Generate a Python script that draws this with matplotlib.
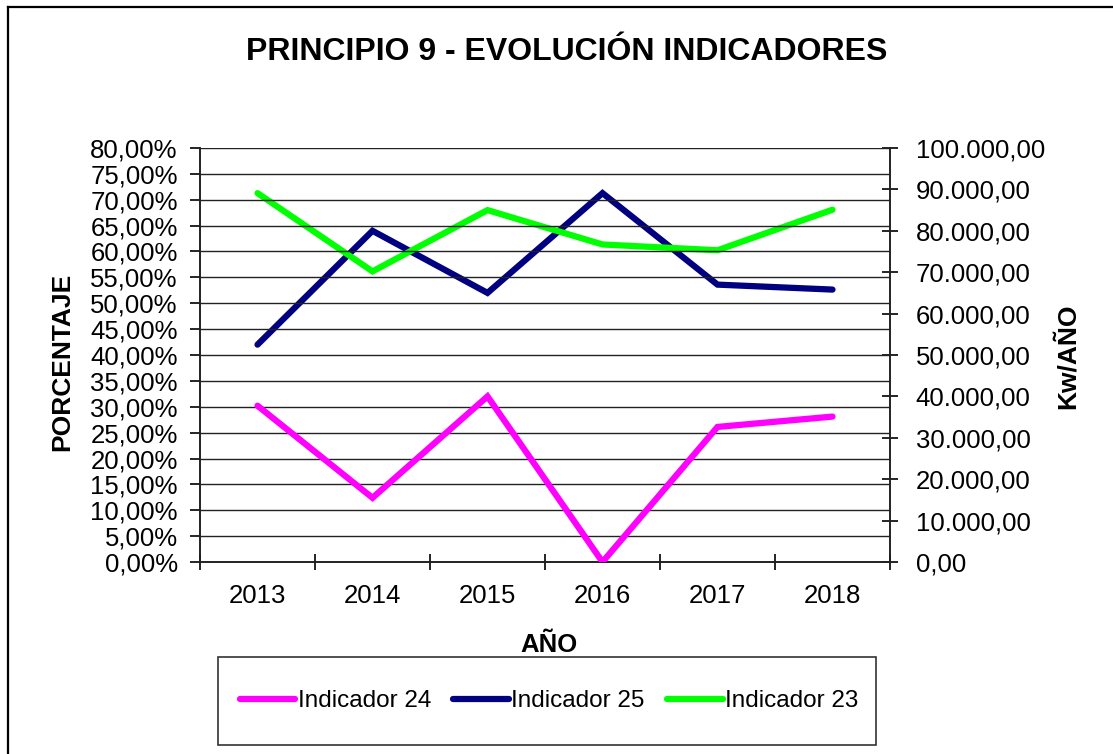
import matplotlib
matplotlib.use('Agg')
import matplotlib.pyplot as plt
from matplotlib.lines import Line2D
from matplotlib.patches import Rectangle

plt.rcParams['font.family'] = ['Liberation Sans', 'DejaVu Sans']

years = ['2013', '2014', '2015', '2016', '2017', '2018']
# porcentaje (eje izquierdo)
ind24 = [30.2, 12.4, 32.0, 0.0, 26.1, 28.1]
# Kw/AÑO (eje derecho)
ind25 = [52500, 80000, 65000, 89100, 67000, 65800]
ind23 = [89100, 70200, 85000, 76700, 75300, 85100]

left_ticks = list(range(0, 81, 5))
left_labels = [f'{v},00%' for v in left_ticks]
right_ticks = list(range(0, 100001, 10000))
right_labels = ['0,00'] + [f'{v // 1000}.000,00' for v in right_ticks[1:]]

W, H = 1113, 754
fig = plt.figure(figsize=(W / 100, H / 100), dpi=100)
ax = fig.add_axes([200 / W, 1 - 562 / H, 690 / W, 414 / H])
ax2 = ax.twinx()

x = [i + 0.5 for i in range(len(years))]
l24, = ax.plot(x, ind24, color='#FF00FF', lw=4.5, solid_capstyle='round',
               solid_joinstyle='miter', label='Indicador 24', zorder=3)
l25, = ax2.plot(x, ind25, color='#000080', lw=4.5, solid_capstyle='round',
                solid_joinstyle='miter', label='Indicador 25', zorder=3)
l23, = ax2.plot(x, ind23, color='#00FF00', lw=4.5, solid_capstyle='round',
                solid_joinstyle='miter', label='Indicador 23', zorder=3)

ax.set_xlim(0, len(years))
ax.set_ylim(0, 80)
ax2.set_ylim(0, 100000)
ax.set_yticks(left_ticks)
ax.set_yticklabels(left_labels, fontsize=18.5)
ax2.set_yticks(right_ticks)
ax2.set_yticklabels(right_labels, fontsize=18.5)
ax.set_xticks(range(len(years) + 1))
ax.set_xticklabels([])
ax.set_xticks(x, minor=True)
ax.set_xticklabels(years, minor=True, fontsize=18.5)
ax.tick_params(axis='x', which='major', direction='inout', length=11, width=1.2)
ax.tick_params(axis='x', which='minor', length=0, pad=16)
ax.tick_params(axis='y', direction='out', length=7, width=1.2, pad=9)
ax2.tick_params(axis='y', direction='inout', length=11, width=1.2, pad=13)

ax.grid(axis='y', color='#222222', lw=1)
for a in (ax, ax2):
    a.spines['top'].set_visible(False)
    for s in ('left', 'right', 'bottom'):
        a.spines[s].set_color('#222222')
        a.spines[s].set_linewidth(1.2)
ax.set_zorder(ax2.get_zorder() + 1)
ax.patch.set_visible(False)

fig.text(567 / W, 1 - 52 / H, 'PRINCIPIO 9 - EVOLUCIÓN INDICADORES',
         ha='center', va='center', fontsize=23, fontweight='bold')
fig.text(549 / W, 1 - 645 / H, 'AÑO', ha='center', va='center',
         fontsize=18.5, fontweight='bold')
fig.text(62 / W, 1 - 362 / H, 'PORCENTAJE', ha='center', va='center',
         rotation=90, fontsize=19, fontweight='bold')
fig.text(1068 / W, 1 - 356 / H, 'Kw/AÑO', ha='center', va='center',
         rotation=90, fontsize=19, fontweight='bold')

# legend box
fig.add_artist(Rectangle((218 / W, 1 - 745 / H), 658 / W, 88 / H,
                         transform=fig.transFigure, fill=False,
                         edgecolor='#333333', lw=1.2))
fig.legend(handles=[l24, l25, l23], loc='center',
           bbox_to_anchor=(549 / W, 1 - 701 / H), ncol=3, frameon=False,
           fontsize=17.5, handlelength=2.3, handletextpad=0.1,
           columnspacing=0.9)

# chart border
fig.add_artist(Line2D([8 / W, 8 / W], [0, 1 - 7 / H], transform=fig.transFigure,
                      color='black', lw=1.6))
fig.add_artist(Line2D([8 / W, 1], [1 - 7 / H, 1 - 7 / H], transform=fig.transFigure,
                      color='black', lw=1.6))

fig.savefig('out.png', dpi=100)
plt.close()
